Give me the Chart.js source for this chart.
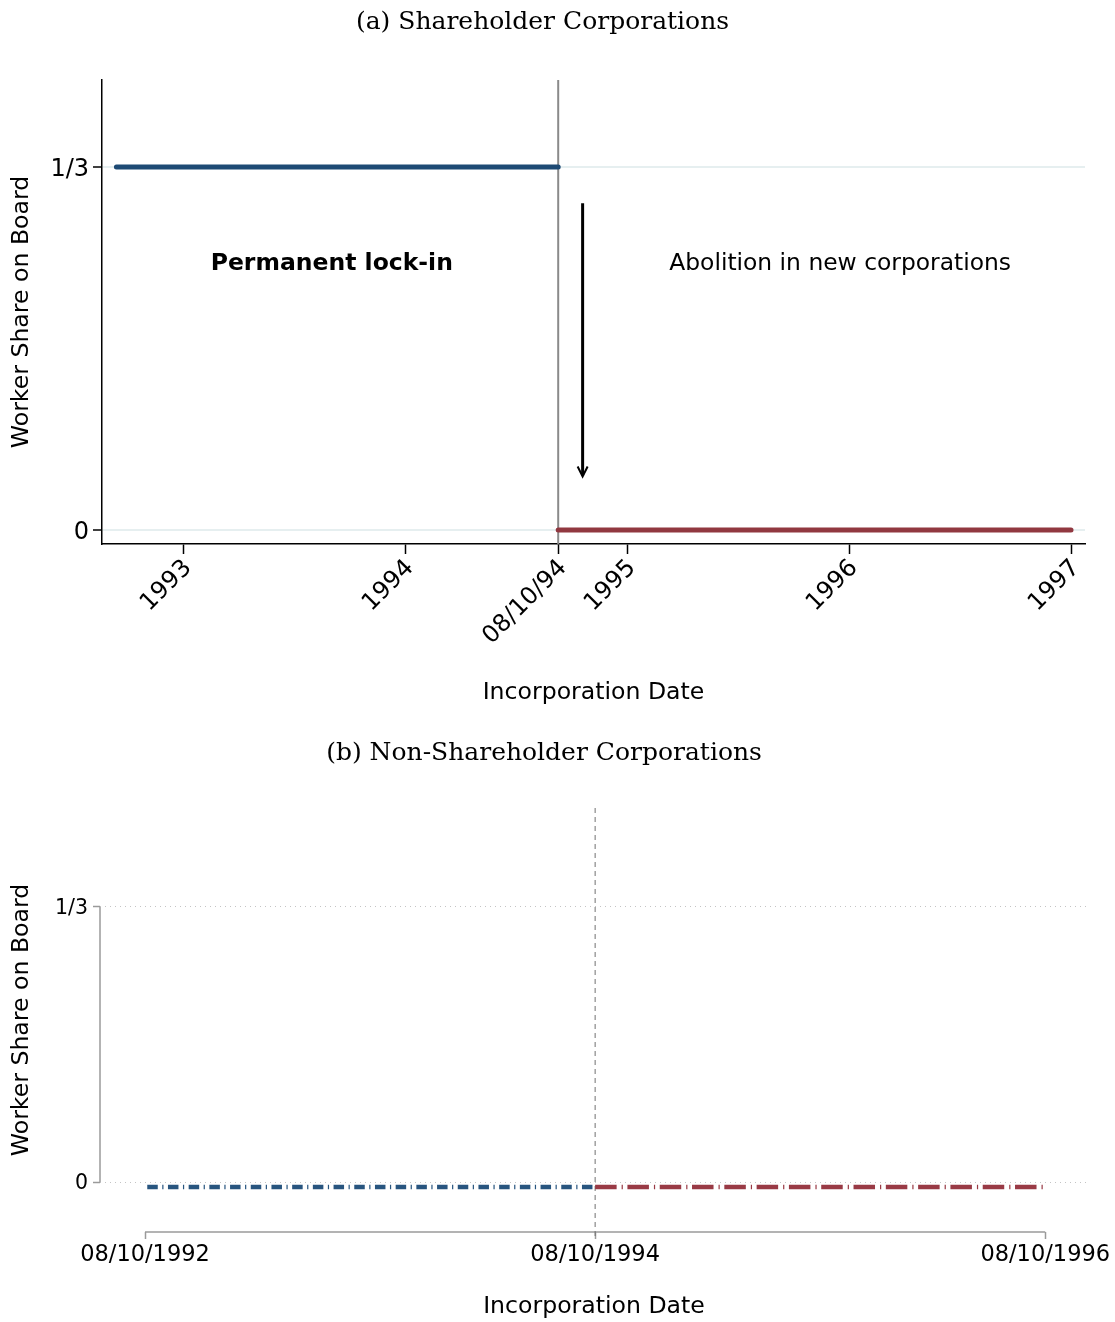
<!DOCTYPE html>
<html>
<head>
<meta charset="utf-8">
<script src="https://cdn.jsdelivr.net/npm/chart.js@4.4.1/dist/chart.umd.min.js"></script>
<style>
  html, body { margin: 0; padding: 0; background: #fff; }
  #wrap { position: relative; width: 1115px; height: 1322px; }
  #c1 { position: absolute; left: 0; top: 0; }
  #c2 { position: absolute; left: 0; top: 725px; }
</style>
</head>
<body>
<div id="wrap">
  <canvas id="c1" width="1115" height="720"></canvas>
  <canvas id="c2" width="1115" height="597"></canvas>
</div>
<script>
// ---------- data ----------
const cutoffDate = 1994.69;                 // 08/10/94 (position)
const shareTicks = [0, 1/3];
const shareTickLabels = ['0', '1/3'];

// Panel (a)
const aLockInX = [1992.70, 1994.69];
const aLockInY = [1/3, 1/3];
const aAbolX = [1994.69, 1997.00];
const aAbolY = [0, 0];
const aTickValues = [1993, 1994, 1994.69, 1995, 1996, 1997];
const aTickLabels = ['1993', '1994', '08/10/94', '1995', '1996', '1997'];
const aArrowX = [1994.80, 1994.80];
const aArrowY = [0.300, 0.050];
const aTextLockIn = { x: 1993.67, y: 0.244, text: 'Permanent lock-in' };
const aTextAbol = { x: 1995.96, y: 0.244, text: 'Abolition in new corporations' };

// Panel (b)
const bPreX = [1992.70, 1994.69];
const bPreY = [-0.006, -0.006];
const bPostX = [1994.69, 1996.68];
const bPostY = [-0.006, -0.006];
const bTickValues = [1992.69, 1994.69, 1996.69];
const bTickLabels = ['08/10/1992', '08/10/1994', '08/10/1996'];

// ---------- helpers ----------
const SANS = 'DejaVu Sans';
const SERIF = 'DejaVu Serif';
Chart.defaults.color = '#000';
Chart.defaults.font.family = SANS;
const pts = (xs, ys) => xs.map((x, i) => ({ x: x, y: ys[i] }));

// ---------- Panel (a) ----------
const panelA = {
  id: 'panelA',
  beforeDatasetsDraw(chart) {
    const { ctx, chartArea, scales } = chart;
    const x = scales.x.getPixelForValue(cutoffDate);
    ctx.save();
    ctx.strokeStyle = '#8a8a8a';
    ctx.lineWidth = 2;
    ctx.beginPath();
    ctx.moveTo(x, chartArea.top);
    ctx.lineTo(x, chartArea.bottom);
    ctx.stroke();
    ctx.restore();
  },
  afterDatasetsDraw(chart) {
    const { ctx, scales } = chart;
    const xs = scales.x, ys = scales.y;
    ctx.save();
    ctx.fillStyle = '#000';
    ctx.textAlign = 'center';
    ctx.textBaseline = 'middle';
    ctx.font = 'bold 23.5px "' + SANS + '"';
    ctx.fillText(aTextLockIn.text, xs.getPixelForValue(aTextLockIn.x), ys.getPixelForValue(aTextLockIn.y));
    ctx.font = '23.4px "' + SANS + '"';
    ctx.fillText(aTextAbol.text, xs.getPixelForValue(aTextAbol.x), ys.getPixelForValue(aTextAbol.y));
    // arrow
    const ax = xs.getPixelForValue(aArrowX[0]);
    const y0 = ys.getPixelForValue(aArrowY[0]);
    const y1 = ys.getPixelForValue(aArrowY[1]);
    ctx.strokeStyle = '#000';
    ctx.lineWidth = 3;
    ctx.beginPath();
    ctx.moveTo(ax, y0);
    ctx.lineTo(ax, y1);
    ctx.stroke();
    ctx.lineWidth = 2;
    ctx.beginPath();
    ctx.moveTo(ax - 5, y1 - 9);
    ctx.lineTo(ax, y1 + 1);
    ctx.lineTo(ax + 5, y1 - 9);
    ctx.stroke();
    ctx.restore();
  }
};

new Chart(document.getElementById('c1'), {
  type: 'line',
  data: {
    datasets: [
      { data: pts(aLockInX, aLockInY), borderColor: '#1d4a74', borderWidth: 5,
        borderCapStyle: 'round', pointRadius: 0, tension: 0 },
      { data: pts(aAbolX, aAbolY), borderColor: '#913840', borderWidth: 5,
        borderCapStyle: 'round', pointRadius: 0, tension: 0 }
    ]
  },
  options: {
    responsive: false,
    animation: false,
    layout: { padding: { left: 0, right: 30, top: 0, bottom: 0 } },
    plugins: {
      legend: { display: false },
      tooltip: { enabled: false },
      title: {
        display: true,
        text: '(a) Shareholder Corporations',
        font: { family: SERIF, size: 25, weight: 'normal' },
        color: '#000',
        padding: { top: 7, bottom: 43 }
      }
    },
    scales: {
      x: {
        type: 'linear',
        min: 1992.635, max: 1997.063,
        afterBuildTicks: (s) => { s.ticks = aTickValues.map(v => ({ value: v })); },
        afterFit: (s) => { s.height = 176; },
        ticks: {
          autoSkip: false, minRotation: 45, maxRotation: 45,
          font: { size: 24 }, padding: 0, labelOffset: 5,
          callback: (v, i) => aTickLabels[i]
        },
        grid: { drawOnChartArea: false, drawTicks: true, tickLength: 10, tickColor: '#000', tickWidth: 1.5 },
        border: { display: true, color: '#000', width: 1.5 },
        title: { display: true, text: 'Incorporation Date', font: { size: 23.6 }, padding: { top: 0, bottom: 13 } }
      },
      y: {
        type: 'linear',
        min: -0.0129, max: 0.4132,
        afterBuildTicks: (s) => { s.ticks = shareTicks.map(v => ({ value: v })); },
        afterFit: (s) => { s.width = 102; },
        ticks: { font: { size: 24 }, padding: 4, labelOffset: 3, callback: (v, i) => shareTickLabels[i] },
        grid: { color: '#e6eff0', lineWidth: 2, tickColor: '#000', tickLength: 9, tickWidth: 1.5 },
        border: { display: true, color: '#000', width: 1.5 },
        title: { display: true, text: 'Worker Share on Board', font: { size: 23.6 }, padding: { top: 8, bottom: 0 } }
      }
    }
  },
  plugins: [panelA]
});

// ---------- Panel (b) ----------
const panelB = {
  id: 'panelB',
  beforeDatasetsDraw(chart) {
    const { ctx, chartArea, scales } = chart;
    const xs = scales.x, ys = scales.y;
    ctx.save();
    ctx.strokeStyle = '#9a9a9a';
    ctx.lineWidth = 1.5;
    // y axis line from 0 to 1/3
    ctx.beginPath();
    ctx.moveTo(chartArea.left, ys.getPixelForValue(shareTicks[0]));
    ctx.lineTo(chartArea.left, ys.getPixelForValue(shareTicks[1]));
    ctx.stroke();
    // x axis line from first to last tick
    ctx.beginPath();
    ctx.moveTo(xs.getPixelForValue(bTickValues[0]), chartArea.bottom);
    ctx.lineTo(xs.getPixelForValue(bTickValues[bTickValues.length - 1]), chartArea.bottom);
    ctx.stroke();
    // dashed cutoff line
    const cx = xs.getPixelForValue(cutoffDate);
    ctx.strokeStyle = '#707070';
    ctx.lineWidth = 1;
    ctx.setLineDash([5, 4]);
    ctx.beginPath();
    ctx.moveTo(cx, chartArea.top);
    ctx.lineTo(cx, chartArea.bottom + 7);
    ctx.stroke();
    ctx.restore();
  }
};

new Chart(document.getElementById('c2'), {
  type: 'line',
  data: {
    datasets: [
      { data: pts(bPreX, bPreY), borderColor: '#28557f', borderWidth: 4.5,
        borderDash: [10.5, 4.5, 1.2, 4.5], borderCapStyle: 'butt', pointRadius: 0, tension: 0 },
      { data: pts(bPostX, bPostY), borderColor: '#993a45', borderWidth: 4.5,
        borderDash: [21.5, 5, 1.2, 4.6], borderCapStyle: 'butt', pointRadius: 0, tension: 0 }
    ]
  },
  options: {
    responsive: false,
    animation: false,
    layout: { padding: { left: 0, right: 27, top: 0, bottom: 0 } },
    plugins: {
      legend: { display: false },
      tooltip: { enabled: false },
      title: {
        display: true,
        text: '(b) Non-Shareholder Corporations',
        font: { family: SERIF, size: 25, weight: 'normal' },
        color: '#000',
        padding: { top: 13, bottom: 40 }
      }
    },
    scales: {
      x: {
        type: 'linear',
        min: 1992.49, max: 1996.88,
        afterBuildTicks: (s) => { s.ticks = bTickValues.map(v => ({ value: v })); },
        afterFit: (s) => { s.height = 90; },
        ticks: { autoSkip: false, minRotation: 0, maxRotation: 0, font: { size: 22.5 }, padding: 3,
                 callback: (v, i) => bTickLabels[i] },
        grid: { drawOnChartArea: false, drawTicks: true, tickLength: 7, tickColor: '#9a9a9a', tickWidth: 1.5 },
        border: { display: false },
        title: { display: true, text: 'Incorporation Date', font: { size: 23.6 }, padding: { top: 0, bottom: 1 } }
      },
      y: {
        type: 'linear',
        min: -0.0606, max: 0.4533,
        afterBuildTicks: (s) => { s.ticks = shareTicks.map(v => ({ value: v })); },
        afterFit: (s) => { s.width = 100; },
        ticks: { font: { size: 20.5 }, padding: 5, labelOffset: 2, callback: (v, i) => shareTickLabels[i] },
        grid: { color: '#c4c4c4', lineWidth: 1, tickColor: '#9a9a9a', tickLength: 7, tickWidth: 1.5 },
        border: { display: false, dash: [1, 4] },
        title: { display: true, text: 'Worker Share on Board', font: { size: 23.6 }, padding: { top: 8, bottom: 0 } }
      }
    }
  },
  plugins: [panelB]
});
</script>
</body>
</html>
